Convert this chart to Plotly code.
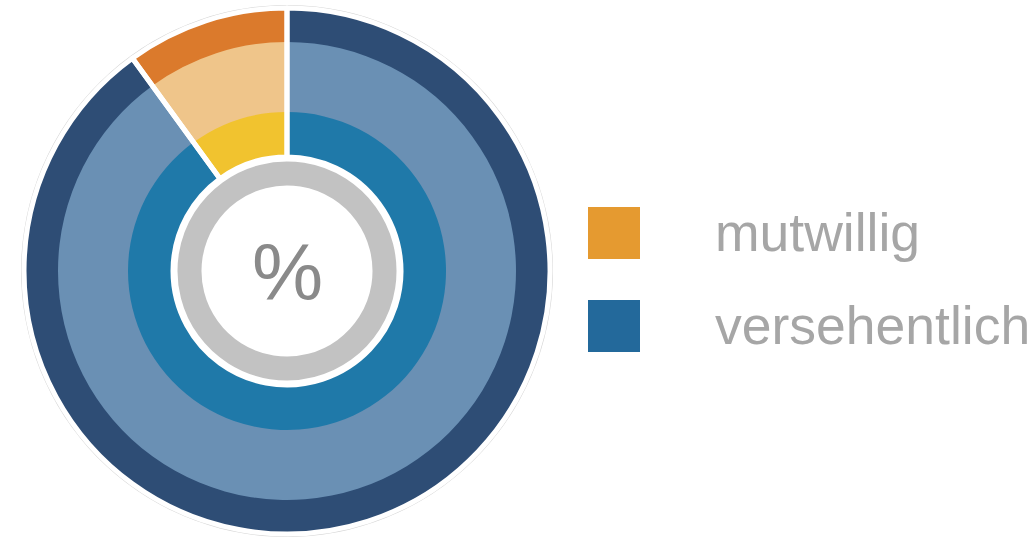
import plotly.graph_objects as go

# ---- data ----
categories = ["mutwillig", "versehentlich"]
values = [10, 90]
center_label = "%"

# ---- style ----
W, H = 1035, 542
CX, CY = 287, 271
outer_colors = ["#db7a2c", "#2e4d75"]
middle_colors = ["#efc58a", "#6a90b4"]
inner_colors = ["#f1c32f", "#1f79a9"]
legend_colors = ["#e59a30", "#23699b"]
text_grey = "#a6a6a6"
FONT = "Liberation Sans, Arial, sans-serif"


def dom(r):
    return dict(x=[(CX - r) / W, (CX + r) / W],
                y=[1 - (CY + r) / H, 1 - (CY - r) / H])


def band(r_out, r_in, colors, line_w=0, line_c="white", vals=None):
    return go.Pie(
        labels=categories if vals is None else ["x"],
        values=values if vals is None else vals,
        sort=False, direction="clockwise", rotation=-36,
        hole=r_in / r_out, domain=dom(r_out),
        marker=dict(colors=colors, line=dict(color=line_c, width=line_w)),
        textinfo="none", hoverinfo="skip", showlegend=False,
    )


fig = go.Figure()
# faint outer outline
fig.add_trace(band(266, 264, ["#d6d6d6"], vals=[1]))
# three colour bands
fig.add_trace(band(263, 228, outer_colors))
fig.add_trace(band(229, 158, middle_colors))
fig.add_trace(band(159, 114, inner_colors))
# white separators between slices
fig.add_trace(band(263, 114, ["rgba(0,0,0,0)", "rgba(0,0,0,0)"], line_w=5))
# grey centre ring
fig.add_trace(band(111, 84, ["#c2c2c2"], line_w=3, vals=[1]))

fig.add_annotation(x=CX / W, y=1 - (CY + 1) / H, xref="paper", yref="paper",
                   xanchor="center", yanchor="middle",
                   text=center_label, showarrow=False,
                   font=dict(family=FONT, size=80, color="#8a8a8a"))

# legend
legend_y = [233, 326]
for i, (name, col) in enumerate(zip(categories, legend_colors)):
    yc = legend_y[i]
    fig.add_shape(type="rect", xref="paper", yref="paper",
                  x0=588 / W, x1=640 / W,
                  y0=1 - (yc + 26) / H, y1=1 - (yc - 26) / H,
                  fillcolor=col, line=dict(width=0))
    fig.add_annotation(x=713 / W, y=1 - (yc - 1) / H, xref="paper", yref="paper",
                       text=name, showarrow=False, xanchor="left", yanchor="middle",
                       font=dict(family=FONT, size=53.5, color=text_grey))

fig.update_layout(width=W, height=H, margin=dict(l=0, r=0, t=0, b=0),
                  paper_bgcolor="white", plot_bgcolor="white")
fig.write_html("out.html", config={"displayModeBar": False},
               post_script="document.body.style.margin='0';document.body.style.overflow='hidden';")
